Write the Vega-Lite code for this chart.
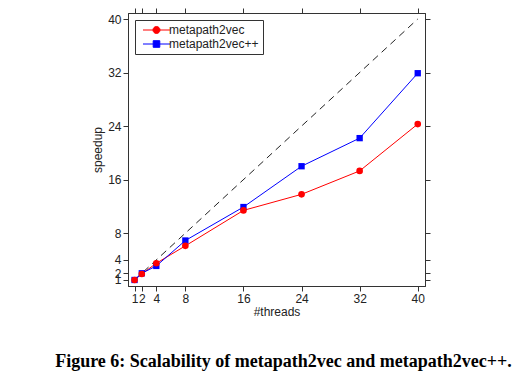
{
  "$schema": "https://vega.github.io/schema/vega-lite/v6.json",
  "autosize": "none",
  "width": 297,
  "height": 273,
  "padding": {"left": 128, "top": 13, "right": 105, "bottom": 91},
  "background": "white",
  "config": {
    "view": {"stroke": "#333", "strokeWidth": 1},
    "axis": {
      "grid": false,
      "labelFont": "Liberation Sans",
      "titleFont": "Liberation Sans",
      "labelFontSize": 12,
      "titleFontSize": 12,
      "labelColor": "#222",
      "titleColor": "#222",
      "titleFontWeight": "normal",
      "domainColor": "#333",
      "tickColor": "#333",
      "tickSize": 5,
      "labelOverlap": false,
      "labelFlush": false,
      "labelBound": false
    },
    "legend": {
      "orient": "top-left",
      "offset": 7,
      "strokeColor": "#333",
      "fillColor": "white",
      "padding": 4,
      "labelFont": "Liberation Sans",
      "labelFontSize": 12,
      "labelColor": "#222",
      "labelOffset": 18,
      "rowPadding": 2,
      "symbolSize": 36
    }
  },
  "datasets": {
    "speedup": [
      {"threads": 1, "speedup": 1.0, "method": "metapath2vec"},
      {"threads": 2, "speedup": 1.9, "method": "metapath2vec"},
      {"threads": 4, "speedup": 3.5, "method": "metapath2vec"},
      {"threads": 8, "speedup": 6.1, "method": "metapath2vec"},
      {"threads": 16, "speedup": 11.4, "method": "metapath2vec"},
      {"threads": 24, "speedup": 13.8, "method": "metapath2vec"},
      {"threads": 32, "speedup": 17.3, "method": "metapath2vec"},
      {"threads": 40, "speedup": 24.3, "method": "metapath2vec"},
      {"threads": 1, "speedup": 1.0, "method": "metapath2vec++"},
      {"threads": 2, "speedup": 2.0, "method": "metapath2vec++"},
      {"threads": 4, "speedup": 3.1, "method": "metapath2vec++"},
      {"threads": 8, "speedup": 6.9, "method": "metapath2vec++"},
      {"threads": 16, "speedup": 11.9, "method": "metapath2vec++"},
      {"threads": 24, "speedup": 18.0, "method": "metapath2vec++"},
      {"threads": 32, "speedup": 22.2, "method": "metapath2vec++"},
      {"threads": 40, "speedup": 31.9, "method": "metapath2vec++"}
    ],
    "ideal": [
      {"threads": 1, "speedup": 1},
      {"threads": 40, "speedup": 40}
    ]
  },
  "title": {
    "text": "Figure 6: Scalability of metapath2vec and metapath2vec++.",
    "orient": "bottom",
    "anchor": "middle",
    "font": "Liberation Serif",
    "fontSize": 18,
    "fontWeight": "bold",
    "color": "#000",
    "offset": 36,
    "dx": 7
  },
  "resolve": {"axis": {"x": "independent", "y": "independent"}},
  "layer": [
    {
      "data": {"name": "ideal"},
      "mark": {"type": "line", "color": "#222", "strokeWidth": 1, "strokeDash": [7, 5]},
      "encoding": {
        "x": {"field": "threads", "type": "quantitative", "scale": {"domain": [0.1, 41], "nice": false, "zero": false},
              "axis": {"orient": "top", "values": [1, 2, 4, 8, 16, 24, 32, 40], "labels": false, "title": null}},
        "y": {"field": "speedup", "type": "quantitative", "scale": {"domain": [0.1, 40.9], "nice": false, "zero": false},
              "axis": {"orient": "right", "values": [1, 2, 4, 8, 16, 24, 32, 40], "labels": false, "title": null}}
      }
    },
    {
      "data": {"name": "speedup"},
      "mark": {"type": "line", "strokeWidth": 1},
      "encoding": {
        "x": {"field": "threads", "type": "quantitative", "scale": {"domain": [0.1, 41], "nice": false, "zero": false},
              "axis": {"orient": "bottom", "values": [1, 2, 4, 8, 16, 24, 32, 40], "title": "#threads", "labelPadding": 2, "titlePadding": 2}},
        "y": {"field": "speedup", "type": "quantitative", "scale": {"domain": [0.1, 40.9], "nice": false, "zero": false},
              "axis": {"orient": "left", "values": [1, 2, 4, 8, 16, 24, 32, 40], "title": "speedup", "labelPadding": 2, "titlePadding": 3}},
        "color": {"field": "method", "type": "nominal",
                  "scale": {"domain": ["metapath2vec", "metapath2vec++"], "range": ["#ff0000", "#0000ff"]},
                  "legend": {
                    "title": null,
                    "encode": {
                      "symbols": {
                        "update": {
                          "shape": {"signal": "datum.value === 'metapath2vec' ? 'M-0.67,0H8.33M2.66,0A1.17,1.17,0,1,0,5,0A1.17,1.17,0,1,0,2.66,0Z' : 'M-0.67,0H8.33M2.73,-1.1H4.93V1.1H2.73Z'"},
                          "fill": {"signal": "datum.value === 'metapath2vec' ? '#ff0000' : '#0000ff'"},
                          "stroke": {"signal": "datum.value === 'metapath2vec' ? '#ff0000' : '#0000ff'"},
                          "strokeWidth": {"value": 1},
                          "opacity": {"value": 1}
                        }
                      }
                    }
                  }}
      }
    },
    {
      "data": {"name": "speedup"},
      "transform": [{"filter": "datum.method === 'metapath2vec++'"}],
      "mark": {"type": "square", "filled": true, "opacity": 1, "size": 40},
      "encoding": {
        "x": {"field": "threads", "type": "quantitative", "axis": null},
        "y": {"field": "speedup", "type": "quantitative", "axis": null},
        "color": {"field": "method", "type": "nominal",
                  "scale": {"domain": ["metapath2vec", "metapath2vec++"], "range": ["#ff0000", "#0000ff"]}}
      }
    },
    {
      "data": {"name": "speedup"},
      "transform": [{"filter": "datum.method === 'metapath2vec'"}],
      "mark": {"type": "circle", "filled": true, "opacity": 1, "size": 44},
      "encoding": {
        "x": {"field": "threads", "type": "quantitative", "axis": null},
        "y": {"field": "speedup", "type": "quantitative", "axis": null},
        "color": {"field": "method", "type": "nominal",
                  "scale": {"domain": ["metapath2vec", "metapath2vec++"], "range": ["#ff0000", "#0000ff"]}}
      }
    }
  ]
}
